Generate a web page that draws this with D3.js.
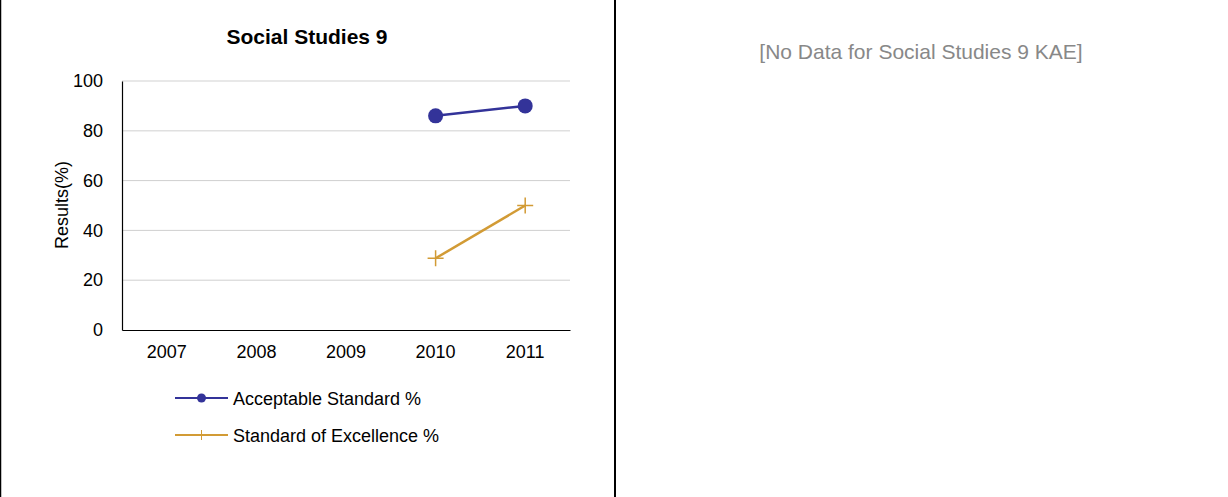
<!DOCTYPE html>
<html>
<head>
<meta charset="utf-8">
<script src="https://cdn.jsdelivr.net/npm/d3@7"></script>
<style>
  body { margin: 0; background: #fff; }
  svg { display: block; font-family: "Liberation Sans", Arial, sans-serif; }
</style>
</head>
<body>
<div id="chart"></div>
<script>
var years = ['2007', '2008', '2009', '2010', '2011'];
var acceptable = [null, null, null, 86, 90];
var excellence = [null, null, null, 28.8, 50];
var yTicks = [0, 20, 40, 60, 80, 100];
var seriesNames = ['Acceptable Standard %', 'Standard of Excellence %'];
var colors = ['#333399', '#d29b35'];

var svg = d3.select('#chart').append('svg')
            .attr('width', 1228)
            .attr('height', 497);

// panel borders
svg.append('line').attr('x1', 0.5).attr('x2', 0.5).attr('y1', 0).attr('y2', 497)
   .attr('stroke', '#000').attr('stroke-width', 1.5);
svg.append('line').attr('x1', 615).attr('x2', 615).attr('y1', 0).attr('y2', 497)
   .attr('stroke', '#000').attr('stroke-width', 2);

var x = d3.scaleBand().domain(years).range([122, 570]);
var y = d3.scaleLinear().domain([0, 100]).range([330, 81]);

// gridlines
svg.append('g')
   .selectAll('line')
   .data(yTicks.slice(1))
   .enter()
   .append('line')
   .attr('x1', 122).attr('x2', 570)
   .attr('y1', function(d) { return y(d); })
   .attr('y2', function(d) { return y(d); })
   .attr('stroke', function(d) { return d >= 80 ? '#e0e0e0' : '#cfcfcf'; })
   .attr('stroke-width', function(d) { return d >= 80 ? 1.5 : 1; });

// axes
var yAxis = svg.append('g')
   .attr('transform', 'translate(122,0)')
   .call(d3.axisLeft(y).tickValues(yTicks).tickSize(0).tickPadding(19));
var xAxis = svg.append('g')
   .attr('transform', 'translate(0,330)')
   .call(d3.axisBottom(x).tickSize(0).tickPadding(15));
[yAxis, xAxis].forEach(function(a) {
  a.selectAll('text').attr('font-size', 18).attr('fill', '#000')
   .attr('font-family', '"Liberation Sans", Arial, sans-serif');
  a.select('.domain').attr('stroke', '#000').attr('stroke-width', 1.2);
});

svg.append('text')
   .attr('x', 307).attr('y', 44)
   .attr('text-anchor', 'middle')
   .attr('font-size', 21).attr('font-weight', 'bold')
   .text('Social Studies 9');

svg.append('text')
   .attr('transform', 'translate(68,205) rotate(-90)')
   .attr('text-anchor', 'middle')
   .attr('font-size', 18)
   .text('Results(%)');

// series
var line = d3.line()
             .defined(function(d) { return d.v != null; })
             .x(function(d) { return x(d.year) + x.bandwidth() / 2; })
             .y(function(d) { return y(d.v); });

function points(values) {
  return years.map(function(yr, i) { return { year: yr, v: values[i] }; });
}

var accPts = points(acceptable), excPts = points(excellence);

svg.append('path').datum(accPts).attr('d', line)
   .attr('fill', 'none').attr('stroke', colors[0]).attr('stroke-width', 2.5);
svg.append('g').selectAll('circle')
   .data(accPts.filter(function(d) { return d.v != null; }))
   .enter().append('circle')
   .attr('cx', function(d) { return x(d.year) + x.bandwidth() / 2; })
   .attr('cy', function(d) { return y(d.v); })
   .attr('r', 7.5)
   .attr('fill', colors[0]);

svg.append('path').datum(excPts).attr('d', line)
   .attr('fill', 'none').attr('stroke', colors[1]).attr('stroke-width', 2.5);
svg.append('g').selectAll('path')
   .data(excPts.filter(function(d) { return d.v != null; }))
   .enter().append('path')
   .attr('d', function(d) {
     var cx = x(d.year) + x.bandwidth() / 2, cy = y(d.v);
     return 'M' + (cx - 8) + ',' + cy + 'H' + (cx + 8) + 'M' + cx + ',' + (cy - 8) + 'V' + (cy + 8);
   })
   .attr('stroke', colors[1]).attr('stroke-width', 1.5);

// legend
var legend = svg.append('g').selectAll('g')
   .data(seriesNames)
   .enter().append('g')
   .attr('transform', function(d, i) { return 'translate(175,' + (398 + i * 37) + ')'; });
legend.append('line').attr('x1', 0).attr('x2', 53)
   .attr('stroke', function(d, i) { return colors[i]; }).attr('stroke-width', 2);
legend.each(function(d, i) {
  var g = d3.select(this);
  if (i === 0) {
    g.append('circle').attr('cx', 26.5).attr('r', 4.5).attr('fill', colors[0]);
  } else {
    g.append('line').attr('x1', 26.5).attr('x2', 26.5).attr('y1', -5).attr('y2', 5)
     .attr('stroke', colors[1]).attr('stroke-width', 1);
  }
});
legend.append('text').attr('x', 58).attr('y', 6.5)
   .attr('font-size', 18).text(function(d) { return d; });

// right panel
svg.append('text')
   .attr('x', 921).attr('y', 59)
   .attr('text-anchor', 'middle')
   .attr('font-size', 21).attr('fill', '#888')
   .text('[No Data for Social Studies 9 KAE]');
</script>
</body>
</html>
